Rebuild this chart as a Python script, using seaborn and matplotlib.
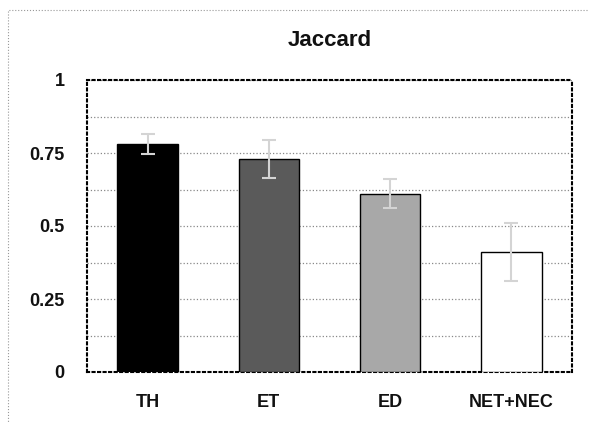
import matplotlib
matplotlib.use("Agg")
import matplotlib.pyplot as plt
import seaborn as sns
import pandas as pd
from matplotlib.patches import Rectangle

# Jaccard index per method, with standard deviation
categories = ["TH", "ET", "ED", "NET+NEC"]
means = [0.78, 0.73, 0.61, 0.41]
errors = [0.035, 0.065, 0.05, 0.10]
bar_colors = ["#000000", "#5a5a5a", "#a8a8a8", "#ffffff"]
yticks = [0, 0.25, 0.5, 0.75, 1]
ytick_labels = ["0", "0.25", "0.5", "0.75", "1"]

sns.set_theme(style="white")
plt.rcParams["font.family"] = ["Liberation Sans", "DejaVu Sans"]

df = pd.DataFrame({"method": categories, "jaccard": means})

fig = plt.figure(figsize=(5.89, 4.22), dpi=100)
ax = fig.add_axes([87 / 589, 1 - 372 / 422, 485 / 589, 292 / 422])

sns.barplot(data=df, x="method", y="jaccard", hue="method", palette=bar_colors,
            order=categories, width=0.5, edgecolor="black", linewidth=1.0,
            legend=False, ax=ax, zorder=3)

ax.errorbar(range(len(categories)), means, yerr=errors, fmt="none",
            ecolor="#d4d4d4", elinewidth=1.5, capsize=5, capthick=1.5,
            linestyle=":", zorder=4)

ax.set_ylim(0, 1)
ax.set_xlim(-0.5, len(categories) - 0.5)
ax.set_yticks(yticks)
ax.set_yticklabels(ytick_labels)
ax.set_yticks([0.125, 0.375, 0.625, 0.875], minor=True)
ax.grid(axis="y", which="both", linestyle=":", color="#888888", linewidth=0.9, zorder=0)
ax.set_axisbelow(True)
ax.set_xlabel("")
ax.set_ylabel("")
ax.tick_params(axis="y", length=0, labelsize=13, pad=16)
ax.tick_params(axis="x", length=0, labelsize=13, pad=16)
for lab in ax.get_xticklabels() + ax.get_yticklabels():
    lab.set_fontweight("bold")
    lab.set_color("#111111")

for side in ax.spines.values():
    side.set_visible(True)
    side.set_linestyle(":")
    side.set_linewidth(1.5)
    side.set_color("black")

fig.text((87 + 572) / 2 / 589, 1 - 40 / 422, "Jaccard", ha="center", va="center",
         fontsize=16, fontweight="bold", color="#111111")

# dotted frame around the chart, running off the right and bottom edges
fig.patches.append(Rectangle((8 / 589, -0.05), 1.1, 1.05 - 10 / 422,
                             transform=fig.transFigure, fill=False,
                             linestyle=":", edgecolor="#999999", linewidth=0.8))

fig.savefig("out.png", dpi=100)
